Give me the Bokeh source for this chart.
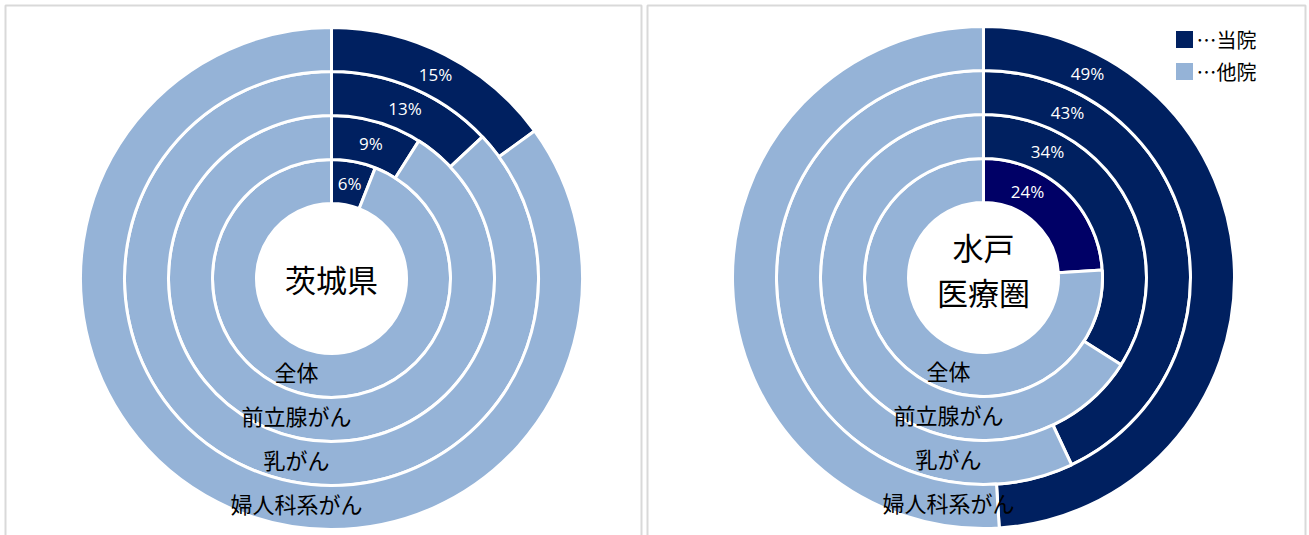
import numpy as np
from bokeh.plotting import figure
from bokeh.models import Range1d, ColumnDataSource
from bokeh.core.properties import value
from bokeh.embed import file_html
from bokeh.resources import INLINE

# ---- data ----
categories = ["全体", "前立腺がん", "乳がん", "婦人科系がん"]   # inner -> outer
ibaraki_share = [6, 9, 13, 15]      # 当院 share (%) in 茨城県
mito_share = [24, 34, 43, 49]       # 当院 share (%) in 水戸医療圏
panel_titles = ["茨城県", "水戸\n医療圏"]
legend_labels = ["…当院", "…他院"]

# ---- style / layout ----
W, H = 1309, 535
DARK = "#002060"
LIGHT = "#95B3D7"
HOLE = 75
RING_W = 44
LABEL_MAX_ANGLE = np.deg2rad(27)
JP = value("Noto Sans CJK JP")

def page(px, py):
    return px, H - py

p = figure(width=W, height=H, output_backend="svg", toolbar_location=None,
           x_range=Range1d(0, W), y_range=Range1d(0, H), min_border=0)
p.axis.visible = False
p.grid.visible = False
p.outline_line_color = None
p.background_fill_color = "white"

# panel frames
for x0, x1 in [(5, 641), (647, 1305)]:
    p.quad(left=x0, right=x1, top=H - 5, bottom=-20, fill_color=None,
           line_color="#d9d9d9", line_width=2)

panels = [
    (page(331, 278), ibaraki_share, [DARK] * 4),
    (page(983, 277), mito_share, ["#000066", DARK, DARK, DARK]),
]

for (cx, cy), shares, dark_cols, title in [(a, b, c, t) for (a, b, c), t in zip(panels, panel_titles)]:
    n = len(categories)
    inner = [HOLE + i * RING_W for i in range(n)]
    outer = [HOLE + (i + 1) * RING_W for i in range(n)]
    frac = np.array(shares) / 100.0
    top = np.pi / 2
    split = top - frac * 2 * np.pi
    dark = ColumnDataSource(dict(x=[cx] * n, y=[cy] * n, ir=inner, orr=outer,
                                 s=list(split), e=[top] * n, c=dark_cols))
    light = ColumnDataSource(dict(x=[cx] * n, y=[cy] * n, ir=inner, orr=outer,
                                  s=[top] * n, e=list(split)))
    p.annular_wedge(x="x", y="y", inner_radius="ir", outer_radius="orr",
                    start_angle="s", end_angle="e", fill_color="c",
                    line_color="white", line_width=3, source=dark)
    p.annular_wedge(x="x", y="y", inner_radius="ir", outer_radius="orr",
                    start_angle="s", end_angle="e", fill_color=LIGHT,
                    line_color="white", line_width=3, source=light)
    # percent labels
    mid_r = [(a + b) / 2 for a, b in zip(inner, outer)]
    ang = np.minimum(frac * np.pi, LABEL_MAX_ANGLE)  # angle from top, clockwise
    lx = [cx + r * np.sin(a) for r, a in zip(mid_r, ang)]
    ly = [cy + r * np.cos(a) for r, a in zip(mid_r, ang)]
    p.text(x=lx, y=ly, text=[f"{v}%" for v in shares], text_color="white",
           text_font=value("Open Sans"), text_font_size="17px",
           text_align="center", text_baseline="middle")
    # category labels
    p.text(x=[cx - 35] * n, y=[cy - r + 5 for r in mid_r], text=categories,
           text_color="black", text_font=JP, text_font_size="22px",
           text_align="center", text_baseline="middle")
    # center title
    lines = title.split("\n")
    if len(lines) == 1:
        ty = [cy]
    else:
        ty = [cy + 31, cy - 14]
    p.text(x=[cx] * len(lines), y=ty, text=lines, text_color="black",
           text_font=JP, text_font_size="31px", text_align="center",
           text_baseline="middle")

# legend
lgx, lgy = page(1184, 39)
p.scatter(x=[lgx, lgx], y=[lgy, lgy - 32], marker="square", size=17,
          fill_color=[DARK, LIGHT], line_color=None)
p.text(x=[lgx + 12, lgx + 12], y=[lgy, lgy - 32], text=legend_labels,
       text_color="black", text_font=JP, text_font_size="20px",
       text_align="left", text_baseline="middle")

open("out.html", "w").write(file_html(p, INLINE))
